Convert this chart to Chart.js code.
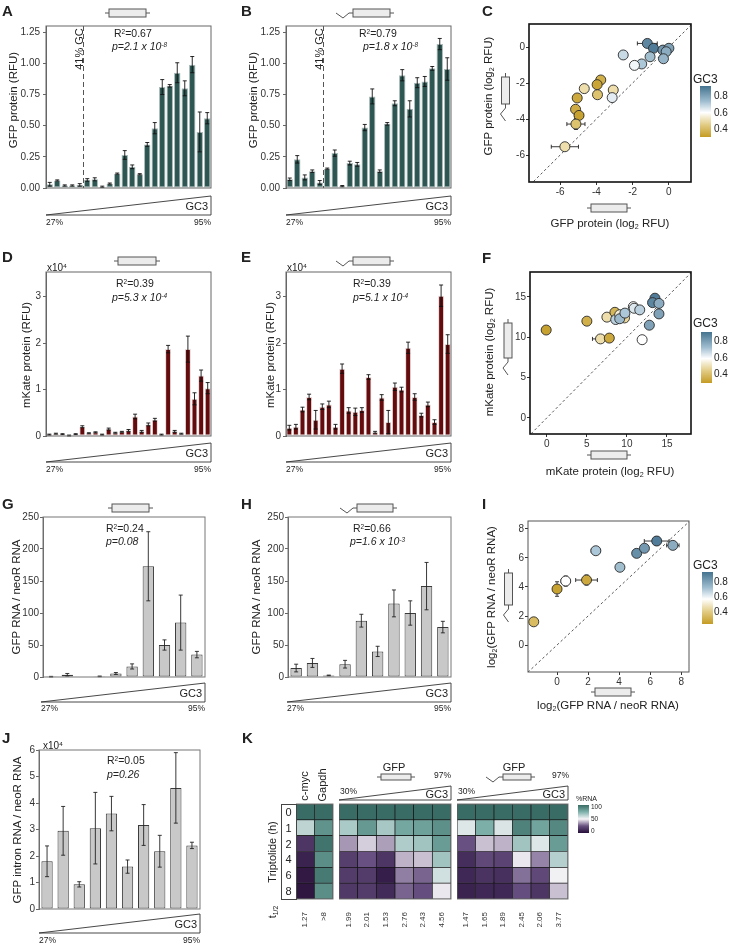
<!DOCTYPE html>
<html>
<head>
<meta charset="utf-8">
<script src="https://cdn.jsdelivr.net/npm/chart.js@4.4.0/dist/chart.umd.min.js"></script>
<style>
  body { margin: 0; background: #fff; }
  #fig { position: relative; width: 729px; height: 946px; overflow: hidden; font-family: "Liberation Sans", Arial, sans-serif; color: #222; }
  #fig canvas { position: absolute; }
  #deco { position: absolute; left: 0; top: 0; z-index: 1; }
  .t { position: absolute; white-space: nowrap; line-height: 1; z-index: 2; }
  sup { font-size: 0.62em; vertical-align: 0.5em; line-height: 0; }
  sub { font-size: 0.62em; vertical-align: -0.3em; line-height: 0; }
</style>
</head>
<body>
<div id="fig"><svg id="deco" width="729" height="946"></svg></div>
<script>
// ---- data ----
// GFP protein (RFU), 22 constructs ordered by GC3, no intron (A) / with intron (B)
const gfpNoIntron = [0.03,0.06,0.02,0.02,0.025,0.065,0.07,0.01,0.035,0.115,0.265,0.17,0.11,0.35,0.48,0.81,0.82,0.925,0.80,0.99,0.45,0.56];
const gfpNoIntronErr = [0.015,0.005,0.005,0.005,0.01,0.01,0.012,0.005,0.005,0.005,0.035,0.015,0.005,0.015,0.045,0.06,0.01,0.08,0.06,0.065,0.16,0.045];
const gfpIntron = [0.07,0.23,0.085,0.135,0.045,0.155,0.28,0.015,0.20,0.19,0.485,0.735,0.135,0.515,0.68,0.905,0.635,0.845,0.855,0.96,1.155,0.955];
const gfpIntronErr = [0.01,0.03,0.02,0.01,0.015,0.005,0.025,0.005,0.015,0.015,0.025,0.06,0.01,0.01,0.02,0.045,0.065,0.04,0.04,0.015,0.045,0.09];
const gfpTicks = [0, 0.25, 0.5, 0.75, 1.0, 1.25];

// mKate protein (x10^4 RFU), 25 constructs (D no intron, E intron)
const mkNoIntron = [0.03,0.05,0.04,0.01,0.04,0.2,0.06,0.08,0.03,0.15,0.07,0.09,0.12,0.42,0.1,0.25,0.35,0.03,1.87,0.1,0.05,1.87,0.8,1.3,1.03];
const mkNoIntronErr = [0.01,0.01,0.01,0.01,0.01,0.02,0.01,0.01,0.01,0.02,0.01,0.01,0.02,0.05,0.02,0.03,0.03,0.01,0.08,0.02,0.01,0.28,0.13,0.12,0.12];
const mkIntron = [0.18,0.2,0.57,0.84,0.35,0.63,0.68,0.2,1.45,0.55,0.52,0.56,1.27,0.08,0.83,0.3,1.06,1.0,1.9,0.84,0.45,0.68,0.3,3.02,1.98];
const mkIntronErr = [0.05,0.05,0.05,0.06,0.2,0.06,0.07,0.05,0.1,0.06,0.08,0.05,0.05,0.02,0.06,0.25,0.08,0.05,0.12,0.07,0.04,0.05,0.05,0.23,0.2];
const mkTicks = [0, 1, 2, 3];

// GFP RNA / neoR RNA, 10 constructs (G no intron, H intron)
const rnaNoIntron = [0.5,3.5,0,1,5.5,16.5,173,50,85,35];
const rnaNoIntronErr = [0.5,2,0,0.5,1.5,4,54,8,43,5];
const rnaIntron = [14,22,2.5,20,88,40,115,100,142,78];
const rnaIntronErr = [6,7,0.5,6,10,8,21,19,37,9];
const rnaTicks = [0, 50, 100, 150, 200, 250];

// GFP intron RNA / neoR RNA (x10^4), panel J
const intronRna = [1.8,2.95,0.93,3.05,3.6,1.6,3.17,2.18,4.57,2.4];
const intronRnaErr = [0.58,0.92,0.1,1.35,0.65,0.25,0.77,0.6,1.33,0.12];
const intronTicks = [0, 1, 2, 3, 4, 5, 6];

// panel C: log2 GFP protein, x = no intron, y = intron
const cX   = [-1.19,-0.85,-0.33,0,-0.15,-0.3,-1.04,-1.5,-1.9,-2.52,-3.76,-3.96,-3.94,-4.67,-3.07,-3.13,-5.06,-5.15,-4.96,-5.13,-5.74];
const cY   = [0.2,-0.07,-0.17,-0.07,-0.26,-0.65,-0.54,-0.94,-1.02,-0.44,-1.83,-2.09,-2.65,-2.31,-2.39,-2.81,-2.83,-3.46,-3.8,-4.28,-5.54];
const cGC  = [0.86,0.88,0.82,0.8,0.78,0.76,0.74,0.72,0.62,0.68,0.36,0.33,0.42,0.5,0.5,0.64,0.34,0.35,0.32,0.42,0.5];
const cXErr = [0.55,0,0,0,0,0,0,0,0,0,0,0,0,0,0,0,0,0,0.25,0.5,0.75];
const cYErr = [0,0,0,0,0,0,0,0,0,0,0,0,0,0,0,0,0,0.2,0,0.3,0.2];
const cTicks = [-6, -4, -2, 0];

// panel F: log2 mKate protein
const fX   = [-0.08,5.0,6.7,7.8,7.5,8.5,8.6,9.1,9.7,9.1,9.75,10.8,10.9,11.6,11.9,12.8,13.5,13.2,14.0,14.0];
const fY   = [10.9,12.0,9.8,9.9,12.5,13.1,12.2,12.8,12.4,12.3,13.0,13.8,13.6,13.4,9.7,11.5,14.85,14.3,14.2,12.9];
const fGC  = [0.32,0.36,0.5,0.34,0.5,0.38,0.7,0.55,0.48,0.75,0.72,0.6,0.65,0.7,0.6,0.8,0.88,0.86,0.78,0.8];
const fXErr = [0,0,1.0,0,0.4,0,0,0,0,0,0,0,0,0,0,0,0,0,0,0];
const fYErr = [0,0,0,0,0,0,0,0,0,0,0,0,0,0,0,0,0,0,0,0];
const fTicks = [0, 5, 10, 15];

// panel I: log2 GFP RNA / neoR RNA
const iX   = [-1.5,0,0.56,1.9,2.5,4.05,5.13,5.63,6.42,7.46];
const iY   = [1.6,3.86,4.41,4.48,6.5,5.36,6.32,6.67,7.17,6.87];
const iGC  = [0.4,0.32,0.6,0.34,0.72,0.74,0.84,0.82,0.88,0.78];
const iXErr = [0,0,0.3,0.7,0.3,0.2,0,0,0.8,0.4];
const iYErr = [0,0.5,0.35,0.35,0,0.15,0,0.2,0.3,0];
const iTicks = [0, 2, 4, 6, 8];

const identity = [-20, 30];

// panel K: %RNA remaining after triptolide, rows = hours (top to bottom)
const hmRows = ['0','1','2','4','6','8'];
const ctrlCols = ['c-myc','Gapdh'];
const ctrlVals = [[100,100],[62,86],[15,97],[8,88],[4,95],[3,88]];
const ctrlHalf = ['1.27','>8'];
const gfpCols = ['GC1','GC2','GC3','GC4','GC5','GC6'];
const gfpVals = [[100,100,100,100,100,100],[66,84,67,79,81,87],[36,44,37,65,68,83],[18,25,15,40,42,68],[17,17,6,32,28,58],[16,17,11,28,24,48]];
const gfpHalf = ['1.99','2.01','1.53','2.76','2.43','4.56'];
const gfpIntronVals = [[100,100,100,100,100,100],[55,76,56,92,80,90],[25,42,40,68,55,83],[12,22,20,48,33,64],[10,14,13,30,22,51],[8,10,10,24,15,42]];
const gfpIntronHalf = ['1.47','1.65','1.89','2.45','2.06','3.77'];

// ---- colours ----
function mix(stops, v) {
  if (v <= stops[0][0]) return stops[0][1];
  for (let i = 1; i < stops.length; i++) {
    if (v <= stops[i][0]) {
      const t = (v - stops[i-1][0]) / (stops[i][0] - stops[i-1][0]);
      return stops[i-1][1].map((c, k) => Math.round(c + (stops[i][1][k] - c) * t));
    }
  }
  return stops[stops.length-1][1];
}
const gcStops = [[0.30,[196,155,35]],[0.45,[228,205,130]],[0.60,[255,255,255]],[0.72,[172,199,215]],[0.90,[70,115,145]]];
const hmStops = [[0,[38,14,56]],[25,[104,80,130]],[50,[246,244,247]],[75,[128,178,172]],[100,[58,108,102]]];
const gcColor = v => 'rgb(' + mix(gcStops, v).join(',') + ')';
const hmColor = v => 'rgb(' + mix(hmStops, v).join(',') + ')';

// ---- plugins ----
const framePlugin = {
  id: 'frame',
  afterDraw(chart, args, o) {
    if (!o.color) return;
    const a = chart.chartArea, ctx = chart.ctx;
    ctx.save();
    ctx.strokeStyle = o.color;
    ctx.lineWidth = o.width || 1;
    ctx.strokeRect(a.left, a.top, a.right - a.left, a.bottom - a.top);
    ctx.restore();
  }
};

function drawErr(chart, o) {
  const ds = chart.data.datasets[0];
  const meta = chart.getDatasetMeta(0);
  const xs = chart.scales.x, ys = chart.scales.y, ctx = chart.ctx;
  const cap = o.cap || 2;
  ctx.save();
  ctx.strokeStyle = o.color || '#111';
  ctx.lineWidth = o.width || 0.9;
  ctx.beginPath();
  meta.data.forEach((el, i) => {
    const raw = ds.data[i];
    const vy = typeof raw === 'number' ? raw : raw.y;
    if (ds.yerr && ds.yerr[i]) {
      const y1 = ys.getPixelForValue(vy + ds.yerr[i]);
      const y2 = ys.getPixelForValue(Math.max(vy - ds.yerr[i], ys.min));
      ctx.moveTo(el.x, y1); ctx.lineTo(el.x, y2);
      ctx.moveTo(el.x - cap, y1); ctx.lineTo(el.x + cap, y1);
      ctx.moveTo(el.x - cap, y2); ctx.lineTo(el.x + cap, y2);
    }
    if (ds.xerr && ds.xerr[i]) {
      const x1 = xs.getPixelForValue(raw.x - ds.xerr[i]);
      const x2 = xs.getPixelForValue(raw.x + ds.xerr[i]);
      ctx.moveTo(x1, el.y); ctx.lineTo(x2, el.y);
      ctx.moveTo(x1, el.y - cap); ctx.lineTo(x1, el.y + cap);
      ctx.moveTo(x2, el.y - cap); ctx.lineTo(x2, el.y + cap);
    }
  });
  ctx.stroke();
  ctx.restore();
}
const errPlugin = {
  id: 'errbars',
  beforeDatasetsDraw(chart, a, o) { if (o.on && o.under) drawErr(chart, o); },
  afterDatasetsDraw(chart, a, o) { if (o.on && !o.under) drawErr(chart, o); }
};

const gcLinePlugin = {
  id: 'gcline',
  afterDatasetsDraw(chart, a, o) {
    if (o.after === undefined) return;
    const xs = chart.scales.x, ca = chart.chartArea, ctx = chart.ctx;
    const x = (xs.getPixelForValue(o.after) + xs.getPixelForValue(o.after + 1)) / 2;
    ctx.save();
    ctx.strokeStyle = '#555';
    ctx.lineWidth = 1;
    ctx.setLineDash([5, 3]);
    ctx.beginPath(); ctx.moveTo(x, ca.top); ctx.lineTo(x, ca.bottom); ctx.stroke();
    ctx.restore();
  }
};
Chart.register(framePlugin, errPlugin, gcLinePlugin);
Chart.defaults.font.family = '"Liberation Sans", Arial, sans-serif';
Chart.defaults.font.size = 10;
Chart.defaults.color = '#333';

const fig = document.getElementById('fig');

// place a chart so that its plot area lands on plot = [left, top, right, bottom]
function makeChart(plot, yw, xh, cfg) {
  const pad = 8;
  const left = plot[0] - yw, top = plot[1] - pad;
  const w = plot[2] + pad - left, h = plot[3] + (xh || pad) - top;
  const cv = document.createElement('canvas');
  cv.width = w; cv.height = h;
  cv.style.left = left + 'px'; cv.style.top = top + 'px';
  cv.style.width = w + 'px'; cv.style.height = h + 'px';
  fig.appendChild(cv);
  const o = cfg.options;
  o.responsive = false;
  o.animation = false;
  o.devicePixelRatio = 1;
  o.layout = { padding: { left: 0, top: pad, right: pad, bottom: xh ? 0 : pad } };
  o.scales.y.afterFit = s => { s.width = yw; };
  if (xh) o.scales.x.afterFit = s => { s.height = xh; };
  return new Chart(cv, cfg);
}

function barCfg(values, errs, fill, edge, barPct, ymax, ticks, fmt, extra) {
  return {
    type: 'bar',
    data: {
      labels: values.map((v, i) => i + 1),
      datasets: [{
        data: values, yerr: errs,
        backgroundColor: fill, borderColor: edge, borderWidth: 1, borderSkipped: false,
        barPercentage: barPct, categoryPercentage: 1
      }]
    },
    options: {
      plugins: Object.assign({
        legend: { display: false }, tooltip: { enabled: false },
        errbars: { on: true, color: extra.errColor || '#111', width: 0.9, cap: 2 },
        frame: { color: extra.frame || '#666', width: 1 }
      }, extra.plugins || {}),
      scales: {
        x: { display: false, offset: true },
        y: {
          min: 0, max: ymax,
          afterBuildTicks: s => { s.ticks = ticks.map(v => ({ value: v })); },
          ticks: { callback: fmt, padding: extra.tickPad || 3, font: { size: 10 }, color: '#333' },
          grid: { drawOnChartArea: false, tickLength: 3, color: '#666' },
          border: { color: '#666' }
        }
      }
    }
  };
}

function scatterCfg(xs, ys, gc, xerr, yerr, xr, yr, ticks, frameColor, frameW) {
  const axis = (r) => ({
    type: 'linear', min: r[0], max: r[1],
    afterBuildTicks: s => { s.ticks = ticks.map(v => ({ value: v })); },
    ticks: { padding: 1, font: { size: 10 }, color: '#333' },
    grid: { drawOnChartArea: false, tickLength: 3, color: '#333' },
    border: { display: false }
  });
  return {
    type: 'scatter',
    data: {
      datasets: [
        { data: xs.map((x, i) => ({ x: x, y: ys[i] })), xerr: xerr, yerr: yerr,
          backgroundColor: gc.map(gcColor), borderColor: '#2a2a2a', borderWidth: 0.9, pointRadius: 5 },
        { type: 'line', data: identity.map(v => ({ x: v, y: v })),
          borderColor: '#444', borderWidth: 0.9, borderDash: [2.5, 2.5], pointRadius: 0, fill: false }
      ]
    },
    options: {
      plugins: {
        legend: { display: false }, tooltip: { enabled: false },
        errbars: { on: true, under: true, color: '#222', width: 0.9, cap: 2 },
        frame: { color: frameColor, width: frameW }
      },
      scales: { x: axis(xr), y: axis(yr) }
    }
  };
}

function heatCfg(cols, vals, half) {
  const datasets = [];
  for (let r = hmRows.length - 1; r >= 0; r--) {
    datasets.push({
      label: hmRows[r],
      data: cols.map(() => 1),
      backgroundColor: vals[r].map(hmColor),
      borderColor: '#151515', borderWidth: 0.7, borderSkipped: false,
      barPercentage: 1, categoryPercentage: 1
    });
  }
  return {
    type: 'bar',
    data: { labels: cols, datasets: datasets },
    options: {
      plugins: { legend: { display: false }, tooltip: { enabled: false }, frame: { color: '#777', width: 1 } },
      scales: {
        x: { stacked: true, grid: { display: false }, border: { display: false },
             ticks: { callback: (v, i) => half[i], minRotation: 90, maxRotation: 90, autoSkip: false, padding: 5, font: { size: 8 }, color: '#333' } },
        y: { stacked: true, display: false, min: 0, max: hmRows.length }
      }
    }
  };
}

// ---- charts ----
const teal = '#2d5652', tealEdge = '#a9bbb9';
const maroon = '#640c0d', maroonEdge = '#e8d8d8';
makeChart([46, 25, 211, 189], 46, 0, barCfg(gfpNoIntron, gfpNoIntronErr, teal, tealEdge, 0.86, 1.3, gfpTicks, v => v.toFixed(2), { plugins: { gcline: { after: 4 } } }));
makeChart([286, 25, 451, 189], 46, 0, barCfg(gfpIntron, gfpIntronErr, teal, tealEdge, 0.86, 1.3, gfpTicks, v => v.toFixed(2), { plugins: { gcline: { after: 4 } } }));
makeChart([46, 272, 211, 436], 40, 0, barCfg(mkNoIntron, mkNoIntronErr, maroon, maroonEdge, 0.9, 3.53, mkTicks, v => String(v), { tickPad: 2 }));
makeChart([286, 272, 451, 436], 40, 0, barCfg(mkIntron, mkIntronErr, maroon, maroonEdge, 0.9, 3.53, mkTicks, v => String(v), { tickPad: 2 }));
makeChart([43, 517, 205, 677], 40, 0, barCfg(rnaNoIntron, rnaNoIntronErr, '#c8c8c8', '#3a3a3a', 0.7, 250, rnaTicks, v => String(v), { frame: '#777', errColor: '#222', tickPad: 1 }));
makeChart([288, 517, 451, 677], 40, 0, barCfg(rnaIntron, rnaIntronErr, '#c8c8c8', '#3a3a3a', 0.7, 250, rnaTicks, v => String(v), { frame: '#777', errColor: '#222', tickPad: 1 }));
makeChart([39, 750, 200, 909], 36, 0, barCfg(intronRna, intronRnaErr, '#c8c8c8', '#3a3a3a', 0.7, 6, intronTicks, v => String(v), { frame: '#777', errColor: '#222', tickPad: 1 }));

makeChart([529, 24, 691, 182], 30, 15, scatterCfg(cX, cY, cGC, cXErr, cYErr, [-7.72, 1.22], [-7.5, 1.28], cTicks, '#111', 1.6));
makeChart([530, 272, 691, 434], 30, 15, scatterCfg(fX, fY, fGC, fXErr, fYErr, [-2.1, 18], [-2.0, 18.1], fTicks, '#111', 1.6));
makeChart([528, 521, 689, 672], 30, 15, scatterCfg(iX, iY, iGC, iXErr, iYErr, [-1.87, 8.5], [-1.86, 8.55], iTicks, '#555', 1));

makeChart([296, 804, 333, 899], 0, 34, heatCfg(ctrlCols, ctrlVals, ctrlHalf));
makeChart([339, 804, 451, 899], 0, 34, heatCfg(gfpCols, gfpVals, gfpHalf));
makeChart([457, 804, 568, 899], 0, 34, heatCfg(gfpCols, gfpIntronVals, gfpIntronHalf));

// ---- decorations (schematics, GC3 wedges, colour bars) ----
const svg = [];
const S = '#555';
function hGene(x1, x2, yc, intron, hh) {
  hh = hh || 4;
  svg.push(`<line x1="${x1 - 4}" y1="${yc}" x2="${x2 + 4}" y2="${yc}" stroke="${S}" stroke-width="1"/>`);
  svg.push(`<rect x="${x1}" y="${yc - hh}" width="${x2 - x1}" height="${hh * 2}" fill="#ececec" stroke="${S}" stroke-width="1"/>`);
  if (intron) svg.push(`<polyline points="${x1 - 17},${yc} ${x1 - 10},${yc + 5} ${x1 - 4},${yc}" fill="none" stroke="${S}" stroke-width="1"/>`);
}
function vGene(xc, y1, y2) {
  svg.push(`<line x1="${xc}" y1="${y1 - 4}" x2="${xc}" y2="${y2 + 4}" stroke="${S}" stroke-width="1"/>`);
  svg.push(`<rect x="${xc - 4}" y="${y1}" width="8" height="${y2 - y1}" fill="#ececec" stroke="${S}" stroke-width="1"/>`);
  svg.push(`<polyline points="${xc},${y2 + 4} ${xc - 5},${y2 + 10} ${xc},${y2 + 17}" fill="none" stroke="${S}" stroke-width="1"/>`);
}
function wedge(l, r, top, bot) {
  svg.push(`<polygon points="${l},${bot} ${r},${top} ${r},${bot}" fill="#fff" stroke="#333" stroke-width="0.9"/>`);
}
function colorBar(id, x, y, w, h, stops) {
  svg.push(`<defs><linearGradient id="${id}" x1="0" y1="0" x2="0" y2="1">` +
    stops.map(s => `<stop offset="${s[0]}" stop-color="${s[1]}"/>`).join('') + `</linearGradient></defs>`);
  svg.push(`<rect x="${x}" y="${y}" width="${w}" height="${h}" fill="url(#${id})"/>`);
}

hGene(109, 146, 13, false);
hGene(353, 390, 13, true);
hGene(591, 627, 208, false);
vGene(505.5, 77, 104);
hGene(118, 156, 261, false);
hGene(353, 390, 261, true);
hGene(591, 627, 455, false);
vGene(508, 323, 358);
hGene(112, 149, 508, false);
hGene(357, 393, 508, true);
hGene(595, 631, 692, false);
vGene(508.5, 573, 605);
hGene(381, 411, 777, false, 3);
hGene(503, 531, 777, true, 3);

wedge(46, 211, 196, 215); wedge(286, 451, 196, 215);
wedge(46, 211, 443, 462); wedge(286, 451, 443, 462);
wedge(41, 205, 683, 702); wedge(287, 451, 683, 702);
wedge(39, 200, 914, 933);
wedge(339, 451, 786, 800); wedge(457, 568, 786, 800);

const gcBarStops = [[0, '#44738f'], [0.3, '#9fbdd0'], [0.52, '#ffffff'], [0.76, '#e2cc85'], [1, '#c49b23']];
colorBar('gcC', 700, 86, 11, 51, gcBarStops);
colorBar('gcF', 701, 332, 11, 51, gcBarStops);
colorBar('gcI', 702, 572, 11, 52, gcBarStops);
colorBar('hmK', 578, 805, 11, 28, [[0, '#3a6c66'], [0.25, '#80b2ac'], [0.5, '#f6f4f7'], [0.75, '#68507f'], [1, '#26103a']]);
document.getElementById('deco').innerHTML = svg.join('');

// ---- text ----
function txt(html, x, y, o) {
  o = o || {};
  const d = document.createElement('div');
  d.className = 't';
  d.innerHTML = html;
  d.style.left = x + 'px';
  d.style.top = y + 'px';
  d.style.fontSize = (o.size || 11) + 'px';
  if (o.bold) d.style.fontWeight = 'bold';
  if (o.italic) d.style.fontStyle = 'italic';
  const tx = o.a === 'r' ? '-100%' : (o.a === 'c' || o.rot) ? '-50%' : '0';
  d.style.transform = `translate(${tx},-50%)` + (o.rot ? ' rotate(-90deg)' : '');
  fig.appendChild(d);
}

// panel letters
[['A', 2, 10], ['B', 241, 10], ['C', 482, 10], ['D', 2, 256], ['E', 241, 256], ['F', 482, 257],
 ['G', 2, 503], ['H', 241, 503], ['I', 482, 503], ['J', 2, 737], ['K', 242, 737]]
  .forEach(p => txt(p[0], p[1], p[2], { size: 15, bold: true }));

// statistics
const stats = [
  ['0.67', '2.1 x 10<sup>-8</sup>', 114, 33, 112, 46],
  ['0.79', '1.8 x 10<sup>-8</sup>', 359, 33, 363, 46],
  ['0.39', '5.3 x 10<sup>-4</sup>', 116, 283, 112, 297],
  ['0.39', '5.1 x 10<sup>-4</sup>', 353, 283, 353, 297],
  ['0.24', '0.08', 106, 528, 106, 541],
  ['0.66', '1.6 x 10<sup>-3</sup>', 353, 528, 350, 541],
  ['0.05', '0.26', 107, 760, 107, 774]
];
stats.forEach(s => {
  txt('R<sup>2</sup>=' + s[0], s[2], s[3], { size: 10.5 });
  txt('p=' + s[1], s[4], s[5], { size: 10.5, italic: true });
});
txt('x10<sup>4</sup>', 47, 268, { size: 10 });
txt('x10<sup>4</sup>', 287, 268, { size: 10 });
txt('x10<sup>4</sup>', 43, 746, { size: 10 });
txt('41% GC', 78.5, 49, { rot: true, size: 11 });
txt('41% GC', 319, 49, { rot: true, size: 11 });

// axis titles
txt('GFP protein (RFU)', 14, 100, { rot: true, size: 11.5 });
txt('GFP protein (RFU)', 254, 100, { rot: true, size: 11.5 });
txt('mKate protein (RFU)', 27, 355, { rot: true, size: 11.5 });
txt('mKate protein (RFU)', 271, 355, { rot: true, size: 11.5 });
txt('GFP RNA / neoR RNA', 17, 597, { rot: true, size: 11.5 });
txt('GFP RNA / neoR RNA', 257, 597, { rot: true, size: 11.5 });
txt('GFP intron RNA / neoR RNA', 18, 830, { rot: true, size: 11.5 });
txt('GFP protein (log<sub>2</sub> RFU)', 489, 96, { rot: true, size: 11.5 });
txt('GFP protein (log<sub>2</sub> RFU)', 610, 224, { a: 'c', size: 11.5 });
txt('mKate protein (log<sub>2</sub> RFU)', 490, 352, { rot: true, size: 11.5 });
txt('mKate protein (log<sub>2</sub> RFU)', 610, 472, { a: 'c', size: 11.5 });
txt('log<sub>2</sub>(GFP RNA / neoR RNA)', 492, 597, { rot: true, size: 11.5 });
txt('log<sub>2</sub>(GFP RNA / neoR RNA)', 608, 706, { a: 'c', size: 11.5 });

// GC3 wedge labels
[[46, 211, 206, 222], [286, 451, 206, 222], [46, 211, 453, 469], [286, 451, 453, 469],
 [41, 205, 693, 708], [287, 451, 693, 708], [39, 200, 924, 940]].forEach(w => {
  txt('GC3', w[1] - 3, w[2], { a: 'r', size: 11 });
  txt('27%', w[0], w[3], { size: 8.5 });
  txt('95%', w[1], w[3], { a: 'r', size: 8.5 });
});

// colour bar labels
[[79, 96, 113, 129], [323, 341, 358, 374], [565, 582, 597, 612]].forEach(c => {
  txt('GC3', 693, c[0], { size: 12 });
  txt('0.8', 714, c[1], { size: 10 });
  txt('0.6', 714, c[2], { size: 10 });
  txt('0.4', 714, c[3], { size: 10 });
});

// heatmap labels
txt('c-myc', 304, 786, { rot: true, size: 11 });
txt('Gapdh', 322, 785, { rot: true, size: 11 });
txt('GFP', 394, 767, { a: 'c', size: 11 });
txt('GFP', 514, 767, { a: 'c', size: 11 });
txt('30%', 340, 791, { size: 8.5 });
txt('97%', 451, 775, { a: 'r', size: 8.5 });
txt('GC3', 448, 794, { a: 'r', size: 11 });
txt('30%', 458, 791, { size: 8.5 });
txt('97%', 569, 775, { a: 'r', size: 8.5 });
txt('GC3', 565, 794, { a: 'r', size: 11 });
txt('Triptolide (h)', 272, 852, { rot: true, size: 11 });
txt('t<sub>1/2</sub>', 272, 912, { rot: true, size: 11 });
txt('%RNA', 576, 798, { size: 7 });
txt('100', 591, 807, { size: 6.5 });
txt('50', 591, 819, { size: 6.5 });
txt('0', 591, 831, { size: 6.5 });

// row label box for heatmap
const rb = document.createElement('div');
rb.style.cssText = 'position:absolute;left:281px;top:804px;width:14px;height:94px;border:1px solid #444;z-index:1;';
fig.appendChild(rb);
hmRows.forEach((r, i) => txt(r, 288.5, 804 + (95 / 6) * (i + 0.5), { a: 'c', size: 11 }));
</script>
</body>
</html>
